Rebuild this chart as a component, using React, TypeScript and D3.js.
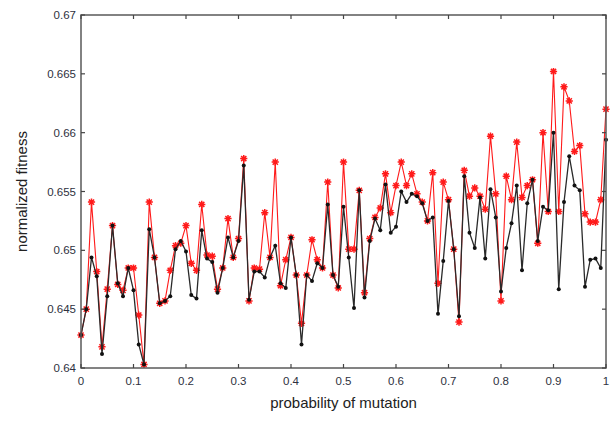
import React from "react";
import * as d3 from "d3";

const probabilities: number[] = d3.range(101).map((i) => i / 100);

const fitnessRed: number[] = [
  0.6428, 0.645, 0.6541, 0.6482, 0.6418, 0.6467, 0.6521, 0.6471, 0.6466, 0.6485,
  0.6485, 0.6445, 0.6403, 0.6541, 0.6494, 0.6455, 0.6457, 0.6483, 0.6504, 0.6506,
  0.6521, 0.6489, 0.6483, 0.6539, 0.6496, 0.6495, 0.6467, 0.6485, 0.6527, 0.6494,
  0.651, 0.6578, 0.6457, 0.6485, 0.6484, 0.6532, 0.6494, 0.6575, 0.647, 0.6492,
  0.6511, 0.6479, 0.6438, 0.6479, 0.6509, 0.6492, 0.6485, 0.6558, 0.6479, 0.6468,
  0.6575, 0.6501, 0.6501, 0.6551, 0.6464, 0.651, 0.6528, 0.6536, 0.6565, 0.6532,
  0.6555, 0.6575, 0.6555, 0.6565, 0.6548, 0.6541, 0.6525, 0.6566, 0.6472, 0.6558,
  0.6543, 0.6501, 0.6439, 0.6568, 0.6546, 0.6553, 0.6546, 0.6535, 0.6597, 0.6548,
  0.6457, 0.6563, 0.6543, 0.6592, 0.6545, 0.6555, 0.656, 0.6506, 0.66, 0.6533,
  0.6652, 0.6533, 0.6639, 0.6627, 0.6584, 0.6589, 0.6531, 0.6524, 0.6524, 0.6543, 0.662,
];

const fitnessBlack: number[] = [
  0.6428, 0.645, 0.6494, 0.6478, 0.6412, 0.6461, 0.6521, 0.6472, 0.6461, 0.6485,
  0.6466, 0.642, 0.6403, 0.6518, 0.6494, 0.6455, 0.6457, 0.6461, 0.6501, 0.6508,
  0.6499, 0.6462, 0.6459, 0.6517, 0.6493, 0.649, 0.6464, 0.6485, 0.6511, 0.6494,
  0.6508, 0.6572, 0.6458, 0.6482, 0.6482, 0.6477, 0.6494, 0.6504, 0.6472, 0.6468,
  0.6511, 0.6479, 0.642, 0.6479, 0.6474, 0.6489, 0.6485, 0.6539, 0.6479, 0.6469,
  0.6537, 0.6494, 0.6451, 0.6551, 0.646, 0.6508, 0.6527, 0.6517, 0.6556, 0.6515,
  0.652, 0.655, 0.6541, 0.6548, 0.6546, 0.654, 0.6525, 0.6528, 0.6446, 0.6491,
  0.6542, 0.6501, 0.6444, 0.6563, 0.6515, 0.6502, 0.6545, 0.6493, 0.6552, 0.6528,
  0.6465, 0.6502, 0.6523, 0.6555, 0.6483, 0.654, 0.656, 0.6508, 0.6537, 0.6534,
  0.66, 0.6467, 0.6541, 0.658, 0.6555, 0.6551, 0.6469, 0.6492, 0.6493, 0.6485, 0.6594,
];

const xTickValues: number[] = [0, 0.1, 0.2, 0.3, 0.4, 0.5, 0.6, 0.7, 0.8, 0.9, 1];
const xTickLabels: string[] = ["0", "0.1", "0.2", "0.3", "0.4", "0.5", "0.6", "0.7", "0.8", "0.9", "1"];
const yTickValues: number[] = [0.64, 0.645, 0.65, 0.655, 0.66, 0.665, 0.67];
const yTickLabels: string[] = ["0.64", "0.645", "0.65", "0.655", "0.66", "0.665", "0.67"];

const W = 614;
const H = 421;
const L = 81;
const R = 606;
const T = 15;
const B = 368;
const FONT = "'Liberation Sans', Arial, sans-serif";

export default function App() {
  const x = d3.scaleLinear().domain([0, 1]).range([L, R]);
  const y = d3.scaleLinear().domain([0.64, 0.67]).range([B, T]);
  const line = d3
    .line<number>()
    .x((_, i) => x(probabilities[i]))
    .y((d) => y(d));
  const tk = 4;
  const s = 3.6;
  const starPath = `M${-s},0H${s}M0,${-s}V${s}M${-s * 0.72},${-s * 0.72}L${s * 0.72},${s * 0.72}M${-s * 0.72},${s * 0.72}L${s * 0.72},${-s * 0.72}`;
  return (
    <svg
      width={W}
      height={H}
      style={{ position: "absolute", left: 0, top: 0, display: "block", background: "#fff" }}
    >
      <rect x={0} y={0} width={W} height={H} fill="#fff" />
      {/* series */}
      <path d={line(fitnessRed) || ""} fill="none" stroke="#ff1a1a" strokeWidth={1.1} />
      {fitnessRed.map((v, i) => (
        <path
          key={"r" + i}
          d={starPath}
          transform={`translate(${x(probabilities[i])},${y(v)})`}
          stroke="#ff1a1a"
          strokeWidth={1.5}
          fill="none"
        />
      ))}
      <path d={line(fitnessBlack) || ""} fill="none" stroke="#2a2a2a" strokeWidth={1.3} />
      {fitnessBlack.map((v, i) => (
        <circle key={"b" + i} cx={x(probabilities[i])} cy={y(v)} r={2} fill="#111" />
      ))}
      {/* axes box */}
      <rect x={L} y={T} width={R - L} height={B - T} fill="none" stroke="#5a5a5a" strokeWidth={1.5} />
      {xTickValues.map((t, i) => (
        <g key={"xt" + i}>
          <line x1={x(t)} x2={x(t)} y1={B} y2={B - tk} stroke="#444" strokeWidth={1.2} />
          <line x1={x(t)} x2={x(t)} y1={T} y2={T + tk} stroke="#444" strokeWidth={1.2} />
          <text
            x={x(t)}
            y={385}
            textAnchor="middle"
            fontFamily={FONT}
            fontSize={11.5}
            fill="#2e3140"
          >
            {xTickLabels[i]}
          </text>
        </g>
      ))}
      {yTickValues.map((t, i) => (
        <g key={"yt" + i}>
          <line x1={L} x2={L + tk} y1={y(t)} y2={y(t)} stroke="#444" strokeWidth={1.2} />
          <line x1={R} x2={R - tk} y1={y(t)} y2={y(t)} stroke="#444" strokeWidth={1.2} />
          <text
            x={76}
            y={y(t) + 4}
            textAnchor="end"
            fontFamily={FONT}
            fontSize={11.5}
            fill="#2e3140"
          >
            {yTickLabels[i]}
          </text>
        </g>
      ))}
      <text
        x={(L + R) / 2}
        y={408}
        textAnchor="middle"
        fontFamily={FONT}
        fontSize={15}
        fill="#222"
      >
        probability of mutation
      </text>
      <text
        transform={`translate(27,${(T + B) / 2}) rotate(-90)`}
        textAnchor="middle"
        fontFamily={FONT}
        fontSize={15}
        fill="#222"
      >
        normalized fitness
      </text>
    </svg>
  );
}
